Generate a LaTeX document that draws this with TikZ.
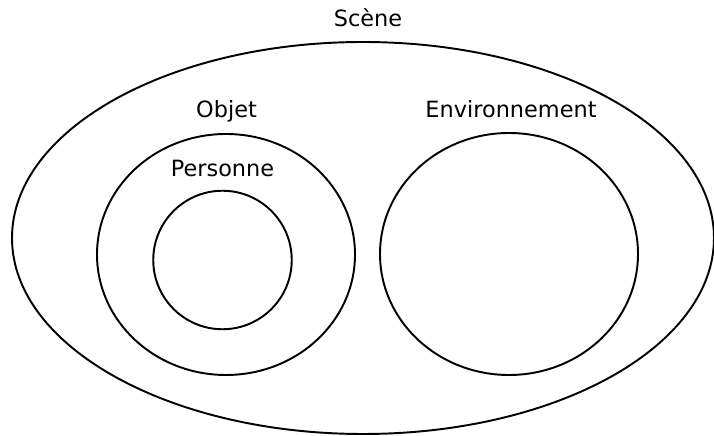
\documentclass[tikz,border=0pt]{standalone}
\usepackage{fontspec}
\setmainfont{DejaVu Sans}
\usepackage{tikz}

\begin{document}
\begin{tikzpicture}[
  ring/.style={line width=1.1pt},
  lbl/.style={anchor=base,inner sep=0pt,font=\fontsize{12.75}{15}\selectfont}]
  \useasboundingbox (0,0) rectangle (14.28,8.72);
  % scene
  \draw[ring] (7.26,3.96) ellipse[x radius=7.02,y radius=3.92];
  \node[lbl] (scene) at (7.36,8.18) {Scène};
  % objet and personne
  \draw[ring] (4.52,3.63) ellipse[x radius=2.58,y radius=2.41];
  \draw[ring] (4.45,3.52) circle (1.385);
  \node[lbl] (objet) at (4.53,6.36) {Objet};
  \node[lbl] (personne) at (4.45,5.18) {Personne};
  % environnement
  \draw[ring] (10.18,3.64) ellipse[x radius=2.58,y radius=2.42];
  \node[lbl] (env) at (10.22,6.36) {Environnement};
\end{tikzpicture}
\end{document}
